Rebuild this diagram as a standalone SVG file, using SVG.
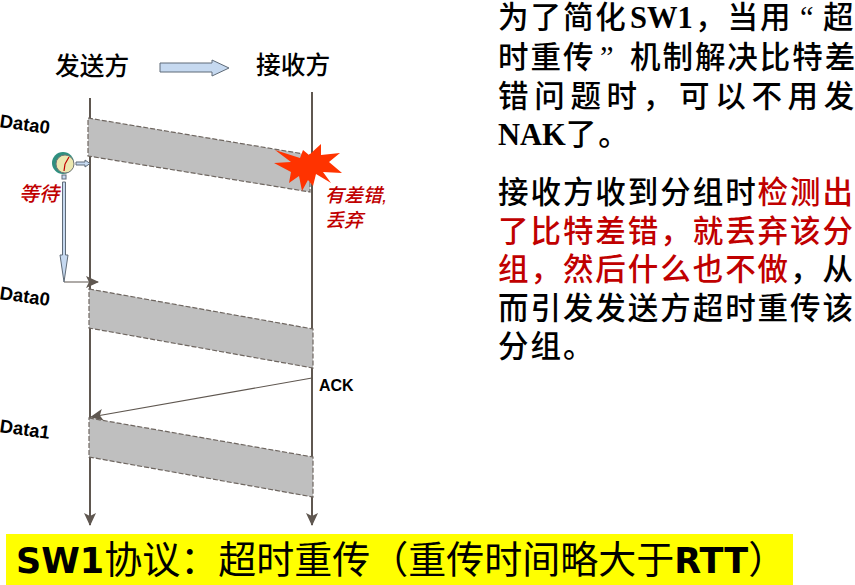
<svg xmlns="http://www.w3.org/2000/svg" width="855" height="585" viewBox="0 0 855 585">
<style>
text{font-family:"Liberation Sans","Noto Sans CJK SC",sans-serif;fill:#000}
.h{font-size:24.700px;font-weight:500}
.r{font-size:30.500px;font-weight:500;letter-spacing:1.950px;font-family:"Liberation Serif","Noto Sans CJK SC",serif}
.lat{font-weight:700;letter-spacing:0}
.end{letter-spacing:0}
.red{fill:#c00000}
.d{font-size:18.500px;font-weight:700}
.ack{font-size:16px;font-weight:700}
.it{font-size:20px;font-style:italic;fill:#c00000;font-weight:500}
.it2{font-size:19px;font-style:italic;fill:#c00000;font-weight:500}
.life{stroke:#5f5750;stroke-width:2;fill:none}
.band{fill:#bfbfbf;stroke:#6e6660;stroke-width:1.2;stroke-dasharray:5 2}
.thin{stroke:#5f5750;stroke-width:1.2;fill:none}
.blue{fill:#c6d9f0;stroke:#5f6b78;stroke-width:1}
.ban{font-size:38px;font-weight:400}
.banb{font-size:35px;font-weight:700;font-family:"DejaVu Sans",sans-serif}
</style>
<defs>
<marker id="ah" markerWidth="14" markerHeight="14" refX="12" refY="6" orient="auto" markerUnits="userSpaceOnUse"><path d="M0 0L13 6L0 12L3 6Z" fill="#5f5750"/></marker>
</defs>
<rect id="banner" x="6" y="534" width="787" height="51" fill="#ffff00"/>
<g id="connectors">
<line class="life" x1="90" y1="98" x2="90" y2="525" marker-end="url(#ah)"/>
<line class="life" x1="312" y1="92" x2="312" y2="525" marker-end="url(#ah)"/>
<line class="thin" x1="312" y1="378" x2="91" y2="417" marker-end="url(#ah)"/>
<line class="thin" x1="64" y1="282" x2="98" y2="282" marker-end="url(#ah)"/>
</g>
<g id="header">
<text class="h" x="55" y="75">发送方</text>
<text class="h" x="256" y="74">接收方</text>
<path class="blue" d="M160 63H212V60L229 68L212 76V72H160Z"/>
</g>
<g id="bands">
<path class="band" d="M88 118L310 155V192L88 156Z"/>
<path class="band" d="M89 289L313 329V368L89 328Z"/>
<path class="band" d="M89 418L313 457V497L89 457Z"/>
</g>
<g id="burst"><path d="M275 150L300 158L303 150L309 155L321 144L321 155L340 153L329 162L342 173L323 172L331 183L316 174L313 186L308 180L302 191L299 176L289 183L291 172L274 163L291 162Z" fill="#ff3300"/></g>
<g id="timer">
<circle cx="63" cy="163" r="11" fill="#2f8f7f"/>
<circle cx="65" cy="164" r="9" fill="#ece8b0" stroke="#777"/>
<path d="M65 164L69 157M65 164L64 171" stroke="#c00000" stroke-width="1.2"/>
<path class="blue" d="M76 162H85V160L90 163.500L85 167V165H76Z"/>
<rect class="blue" x="62" y="175" width="4" height="4"/>
<path class="blue" d="M62.500 182H65.500V255H68L64 282L60 255H62.500Z"/>
</g>
<g id="labels">
<text class="d" transform="translate(-1 127) rotate(8)">Data0</text>
<text class="d" transform="translate(-1 299) rotate(8)">Data0</text>
<text class="d" transform="translate(-1 432) rotate(8)">Data1</text>
<text class="ack" x="319" y="391">ACK</text>
<text class="it" x="19" y="201">等待</text>
<text class="it2" x="325" y="202">有差错,</text>
<text class="it2" x="325" y="227">丢弃</text>
</g>
<g id="text1">
<text class="r" x="498" y="28">为了简化<tspan class="lat" x="630">SW1</tspan><tspan x="695">，当用</tspan><tspan x="800">“</tspan><tspan x="823" class="end">超</tspan></text>
<text class="r" x="498" y="68">时重传<tspan x="600">”</tspan><tspan x="630">机制解决比特</tspan><tspan class="end">差</tspan></text>
<text class="r" x="498" y="107" style="letter-spacing:5.700px">错问题时，可以不用<tspan class="end">发</tspan></text>
<text class="r" x="498" y="145"><tspan class="lat">NAK</tspan>了。</text>
</g>
<g id="text2">
<text class="r" x="498" y="203">接收方收到分组时<tspan class="red">检测<tspan class="end">出</tspan></tspan></text>
<text class="r red" x="498" y="242">了比特差错，就丢弃该<tspan class="end">分</tspan></text>
<text class="r" x="498" y="280"><tspan class="red">组，然后什么也不做</tspan>，<tspan class="end">从</tspan></text>
<text class="r" x="498" y="319">而引发发送方超时重传<tspan class="end">该</tspan></text>
<text class="r" x="498" y="357">分组。</text>
</g>
<text x="16" y="573"><tspan class="banb">SW1</tspan><tspan class="ban">协议：超时重传（重传时间略大于</tspan><tspan class="banb">RTT</tspan><tspan class="ban">）</tspan></text>
</svg>
